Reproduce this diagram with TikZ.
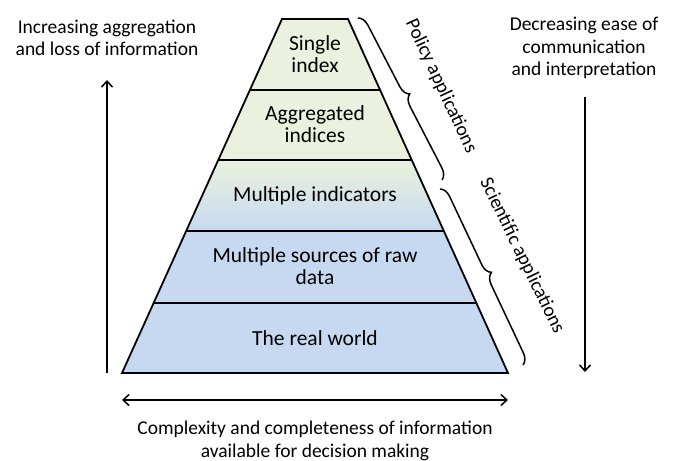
\documentclass[tikz,border=0pt]{standalone}
\usepackage{fontspec}
\setmainfont{Carlito}
\usepackage{xcolor}
\usetikzlibrary{
    arrows.meta,
    decorations.pathreplacing,
    positioning
}
\definecolor{pgreen}{HTML}{EBF1DE}
\definecolor{pblue}{HTML}{C6D9F1}
\tikzset{edge/.style={draw=black, line width=1.8pt, line join=miter}}
\tikzset{lvl/.style={align=center, inner sep=0pt, font=\fontsize{21.5}{22.5}\selectfont}}
\tikzset{side/.style={align=center, inner sep=0pt, font=\fontsize{19.5}{22.5}\selectfont}}
\tikzset{brc/.style={decorate, decoration={brace, amplitude=11pt}, line width=1.5pt}}
\tikzset{barb/.tip={Straight Barb[length=6pt, width=11pt, line width=1.5pt]}}
\tikzset{trend/.style={line width=1.5pt, -barb}}

\begin{document}
\begin{tikzpicture}[x=1pt, y=-1pt]
    \useasboundingbox (0, 0) rectangle (673, 461);

    % corners of the layers
    \coordinate (l0) at (282, 19);    \coordinate (r0) at (348, 19);
    \coordinate (l1) at (249.9, 90);  \coordinate (r1) at (380.1, 90);
    \coordinate (l2) at (218.3, 160); \coordinate (r2) at (411.7, 160);
    \coordinate (l3) at (186.2, 231); \coordinate (r3) at (443.8, 231);
    \coordinate (l4) at (153.6, 303); \coordinate (r4) at (476.4, 303);
    \coordinate (l5) at (122, 373);   \coordinate (r5) at (508, 373);

    \fill[pgreen] (l0) -- (r0) -- (r2) -- (l2) -- cycle;
    \shade[top color=pgreen, middle color=pblue!75!pgreen, bottom color=pblue] (l2) -- (r2) -- (r3) -- (l3) -- cycle;
    \fill[pblue] (l3) -- (r3) -- (r5) -- (l5) -- cycle;
    \draw[edge] (l0) -- (r0) -- (r5) -- (l5) -- cycle;
    \draw[edge] (l1) -- (r1) (l2) -- (r2) (l3) -- (r3) (l4) -- (r4);

    \node[lvl] (single) at (315, 54) {Single\\index};
    \node[lvl] (aggr) at (315, 124) {Aggregated\\indices};
    \node[lvl] (indic) at (315, 196) {Multiple indicators};
    \node[lvl] (sources) at (315, 266) {Multiple sources of raw\\data};
    \node[lvl] (world) at (315, 338) {The real world};

    % side texts and arrows
    \node[side] (incr) at (107, 38) {Increasing aggregation\\and loss of information};
    \node[side] (decr) at (584, 48) {Decreasing ease of\\communication\\and interpretation};
    \node[side] (compl) at (315, 441) {Complexity and completeness of information\\available for decision making};

    \coordinate (upfoot) at (107, 373);
    \coordinate (uphead) at (107, 80);
    \coordinate (downfoot) at (585, 97);
    \coordinate (downhead) at (585, 372);
    \coordinate (wl) at (122, 400);
    \coordinate (wr) at (508, 400);

    \draw[trend] (upfoot) -- (uphead);
    \draw[trend] (downfoot) -- (downhead);
    \draw[trend, barb-barb] (wl) -- (wr);

    % braces
    \coordinate (pol0) at (358, 18);
    \coordinate (pol1) at (442, 180);
    \coordinate (sci0) at (440, 189);
    \coordinate (sci1) at (523, 365);

    \draw[brc] (pol0) -- (pol1);
    \draw[brc] (sci0) -- (sci1);
    \node[side, rotate=-65] (policy) at (441, 86) {Policy applications};
    \node[side, rotate=-64] (scient) at (522, 256) {Scientific applications};
\end{tikzpicture}
\end{document}
